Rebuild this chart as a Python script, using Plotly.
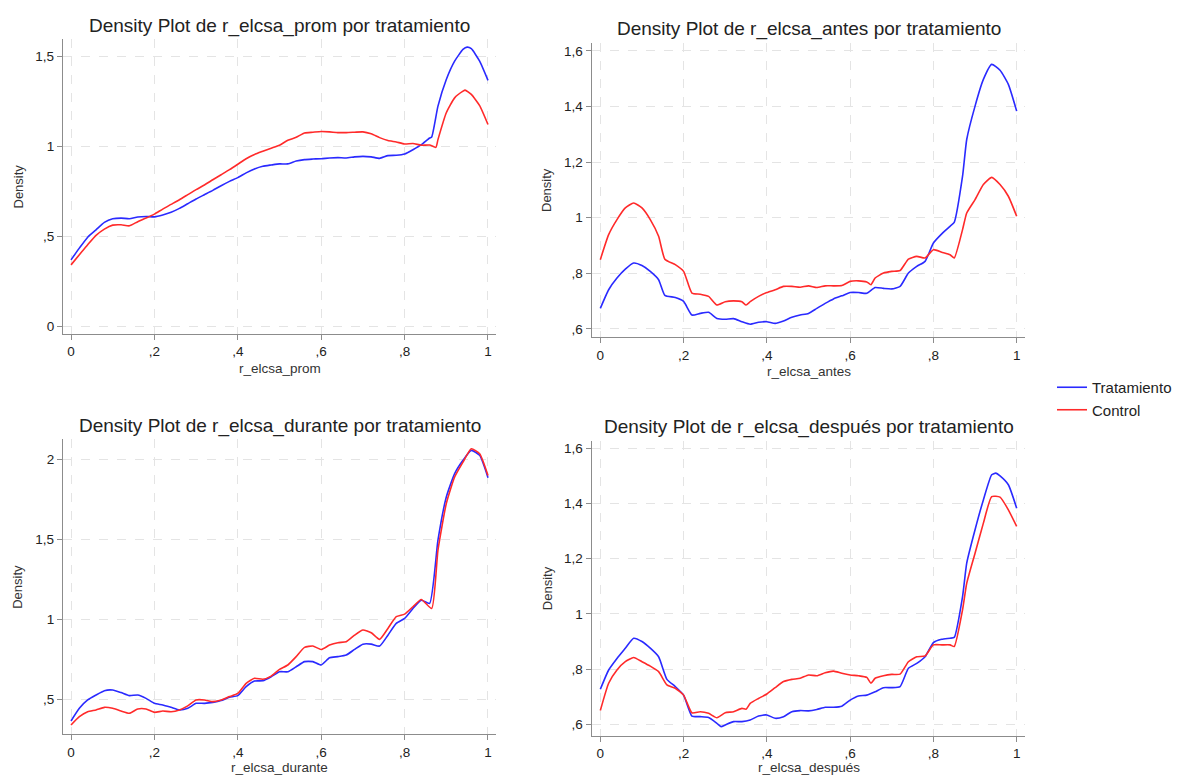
import plotly.graph_objects as go

# ---------------- Data ----------------
# Panel 1: r_elcsa_prom
p1_trat_x = [0, .02, .04, .06, .08, .10, .12, .14, .16, .18, .20, .22, .24, .26, .28, .30, .32, .34, .36, .38, .40,
             .42, .44, .46, .48, .50, .52, .54, .56, .58, .60, .62, .64, .66, .68, .70, .72, .74, .76, .78, .80,
             .82, .84, .86, .865, .88, .90, .92, .94, .95, .96, .98, 1.0]
p1_trat_y = [0.369, 0.434, 0.495, 0.536, 0.577, 0.597, 0.601, 0.597, 0.607, 0.610, 0.608, 0.618, 0.633, 0.655,
             0.681, 0.707, 0.731, 0.755, 0.781, 0.805, 0.826, 0.852, 0.874, 0.889, 0.896, 0.902, 0.902, 0.918,
             0.926, 0.929, 0.931, 0.935, 0.937, 0.935, 0.941, 0.944, 0.941, 0.933, 0.948, 0.950, 0.957, 0.981,
             1.009, 1.046, 1.052, 1.223, 1.371, 1.473, 1.538, 1.551, 1.542, 1.473, 1.366]
p1_ctrl_x = [0, .02, .04, .06, .08, .10, .12, .14, .16, .18, .20, .22, .24, .26, .28, .30, .32, .34, .36, .38, .40,
             .42, .44, .46, .48, .50, .52, .54, .56, .58, .60, .62, .64, .66, .68, .70, .72, .74, .76, .78, .80,
             .82, .84, .86, .875, .88, .90, .92, .94, .945, .96, .98, 1.0]
p1_ctrl_y = [0.341, 0.397, 0.453, 0.505, 0.540, 0.562, 0.564, 0.558, 0.581, 0.601, 0.623, 0.651, 0.677, 0.703,
             0.731, 0.759, 0.785, 0.814, 0.842, 0.870, 0.900, 0.931, 0.954, 0.972, 0.989, 1.006, 1.033, 1.050,
             1.074, 1.078, 1.082, 1.080, 1.076, 1.076, 1.078, 1.080, 1.069, 1.048, 1.032, 1.024, 1.013, 1.015,
             1.006, 1.007, 0.994, 1.037, 1.186, 1.269, 1.306, 1.312, 1.288, 1.226, 1.121]

# Panel 2: r_elcsa_antes
p2_trat_x = [0, .02, .04, .06, .08, .10, .12, .14, .155, .18, .20, .22, .24, .26, .28, .30, .32, .34, .36, .38, .40,
             .42, .44, .46, .48, .50, .52, .54, .56, .58, .60, .62, .64, .66, .68, .70, .72, .74, .76, .78, .80,
             .82, .84, .85, .87, .88, .90, .92, .94, .96, .98, 1.0]
p2_trat_y = [0.674, 0.741, 0.783, 0.815, 0.837, 0.828, 0.807, 0.777, 0.721, 0.713, 0.699, 0.650, 0.656, 0.660,
             0.638, 0.635, 0.637, 0.626, 0.617, 0.624, 0.626, 0.620, 0.629, 0.642, 0.650, 0.656, 0.674, 0.692,
             0.708, 0.719, 0.731, 0.731, 0.728, 0.749, 0.746, 0.744, 0.753, 0.801, 0.825, 0.843, 0.909, 0.942,
             0.969, 0.983, 1.149, 1.281, 1.401, 1.497, 1.551, 1.530, 1.479, 1.383]
p2_ctrl_x = [0, .02, .04, .06, .08, .10, .12, .14, .155, .18, .20, .22, .24, .26, .28, .30, .32, .34, .35, .36, .38,
             .40, .42, .44, .46, .48, .50, .52, .54, .56, .58, .60, .62, .64, .65, .66, .68, .70, .72, .74, .76,
             .78, .80, .82, .84, .85, .87, .88, .90, .92, .94, .96, .98, 1.0]
p2_ctrl_y = [0.849, 0.939, 0.993, 1.035, 1.053, 1.035, 0.993, 0.933, 0.851, 0.831, 0.807, 0.729, 0.725, 0.717,
             0.686, 0.698, 0.701, 0.698, 0.686, 0.698, 0.717, 0.731, 0.741, 0.753, 0.753, 0.750, 0.755, 0.749,
             0.755, 0.755, 0.756, 0.771, 0.773, 0.769, 0.759, 0.783, 0.801, 0.807, 0.810, 0.851, 0.861, 0.855,
             0.885, 0.876, 0.867, 0.855, 0.957, 1.017, 1.065, 1.119, 1.145, 1.119, 1.077, 1.005]

# Panel 3: r_elcsa_durante
p3_trat_x = [0, .02, .04, .06, .08, .10, .12, .14, .16, .18, .20, .22, .24, .26, .28, .30, .32, .34, .36, .38, .40,
             .42, .44, .46, .48, .50, .52, .54, .56, .58, .60, .62, .64, .66, .68, .70, .72, .74, .76, .78, .80,
             .82, .84, .86, .88, .90, .92, .94, .96, .98, 1.0]
p3_trat_y = [0.367, 0.446, 0.498, 0.529, 0.556, 0.560, 0.544, 0.525, 0.529, 0.508, 0.477, 0.467, 0.452, 0.436,
             0.446, 0.477, 0.477, 0.483, 0.494, 0.515, 0.525, 0.581, 0.616, 0.618, 0.643, 0.674, 0.674, 0.705,
             0.737, 0.737, 0.716, 0.761, 0.768, 0.778, 0.813, 0.846, 0.846, 0.834, 0.902, 0.975, 1.006, 1.068,
             1.120, 1.100, 1.494, 1.763, 1.909, 1.992, 2.054, 2.023, 1.884]
p3_ctrl_x = [0, .02, .04, .06, .08, .10, .12, .14, .16, .18, .20, .22, .24, .26, .28, .30, .32, .34, .36, .38, .40,
             .42, .44, .46, .48, .50, .52, .54, .56, .58, .60, .62, .64, .66, .68, .70, .72, .74, .76, .78, .80,
             .82, .84, .865, .88, .90, .92, .94, .96, .98, 1.0]
p3_ctrl_y = [0.342, 0.394, 0.425, 0.436, 0.452, 0.446, 0.429, 0.415, 0.442, 0.442, 0.421, 0.429, 0.425, 0.436,
             0.461, 0.498, 0.498, 0.488, 0.498, 0.519, 0.539, 0.602, 0.633, 0.627, 0.647, 0.689, 0.716, 0.768,
             0.826, 0.834, 0.813, 0.840, 0.855, 0.861, 0.902, 0.934, 0.917, 0.876, 0.944, 1.017, 1.033, 1.079,
             1.124, 1.068, 1.432, 1.722, 1.888, 1.981, 2.064, 2.033, 1.898]

# Panel 4: r_elcsa_después
p4_trat_x = [0, .02, .04, .06, .08, .10, .12, .14, .16, .18, .20, .22, .24, .26, .28, .29, .30, .32, .34, .36, .38,
             .40, .42, .44, .46, .48, .50, .52, .54, .56, .58, .60, .62, .64, .66, .68, .70, .72, .74, .76, .78,
             .80, .82, .84, .85, .87, .88, .90, .92, .94, .95, .96, .98, 1.0]
p4_trat_y = [0.727, 0.797, 0.839, 0.876, 0.912, 0.900, 0.876, 0.845, 0.763, 0.737, 0.706, 0.630, 0.628, 0.625,
             0.604, 0.592, 0.598, 0.610, 0.610, 0.616, 0.630, 0.634, 0.622, 0.628, 0.646, 0.650, 0.649, 0.654,
             0.662, 0.662, 0.666, 0.688, 0.703, 0.706, 0.718, 0.733, 0.733, 0.737, 0.803, 0.821, 0.845, 0.896,
             0.908, 0.912, 0.915, 1.063, 1.184, 1.305, 1.413, 1.504, 1.510, 1.500, 1.468, 1.383]
p4_ctrl_x = [0, .02, .04, .06, .08, .10, .12, .14, .16, .18, .20, .22, .24, .26, .28, .30, .32, .34, .35, .36, .38,
             .40, .42, .44, .46, .48, .50, .52, .54, .56, .58, .60, .62, .64, .65, .66, .68, .70, .72, .74, .76,
             .78, .80, .82, .84, .85, .87, .88, .90, .92, .94, .96, .98, 1.0]
p4_ctrl_y = [0.650, 0.749, 0.797, 0.827, 0.842, 0.827, 0.811, 0.791, 0.743, 0.731, 0.706, 0.642, 0.646, 0.640,
             0.624, 0.642, 0.646, 0.658, 0.655, 0.676, 0.694, 0.710, 0.733, 0.755, 0.763, 0.767, 0.779, 0.776,
             0.787, 0.793, 0.785, 0.779, 0.776, 0.770, 0.749, 0.767, 0.776, 0.781, 0.782, 0.827, 0.845, 0.848,
             0.888, 0.888, 0.888, 0.882, 1.015, 1.111, 1.220, 1.329, 1.425, 1.423, 1.377, 1.317]

titles = ["Density Plot de r_elcsa_prom por tratamiento",
          "Density Plot de r_elcsa_antes por tratamiento",
          "Density Plot de r_elcsa_durante por tratamiento",
          "Density Plot de r_elcsa_después por tratamiento"]
xtitles = ["r_elcsa_prom", "r_elcsa_antes", "r_elcsa_durante", "r_elcsa_después"]
series_names = ["Tratamiento", "Control"]

x_tickvals = [0, 0.2, 0.4, 0.6, 0.8, 1]
x_ticktext = ["0", ",2", ",4", ",6", ",8", "1"]
y_ticks = [
    ([0, 0.5, 1, 1.5], ["0", ",5", "1", "1,5"]),
    ([0.6, 0.8, 1, 1.2, 1.4, 1.6], [",6", ",8", "1", "1,2", "1,4", "1,6"]),
    ([0.5, 1, 1.5, 2], [",5", "1", "1,5", "2"]),
    ([0.6, 0.8, 1, 1.2, 1.4, 1.6], [",6", ",8", "1", "1,2", "1,4", "1,6"]),
]

# ---------------- Layout geometry ----------------
# The html body has an 8px margin, so page pixel p maps to figure pixel p - 8.
OFF = 8
W, H = 1187 - OFF, 776 - OFF
FONT = "Arial, Liberation Sans, sans-serif"
BLUE = "#2a2aff"
RED = "#ff2a2a"


def fx(px):
    return (px - OFF) / W


def fy(py):
    return 1 - (py - OFF) / H


x_dom_left = [fx(63), fx(496)]
x_dom_right = [fx(591.7), fx(1025.3)]
x_range_left = [-0.0192, 1.0192]
x_range_right = [-0.0207, 1.0207]

panels = [
    dict(xd=x_dom_left, xr=x_range_left, yd=[fy(334), fy(39)], yr=[-0.043, 1.596],
         data=(p1_trat_x, p1_trat_y, p1_ctrl_x, p1_ctrl_y), title_y=26, xt_y=368, yt_x=18),
    dict(xd=x_dom_right, xr=x_range_right, yd=[fy(337.3), fy(42.7)], yr=[0.570, 1.629],
         data=(p2_trat_x, p2_trat_y, p2_ctrl_x, p2_ctrl_y), title_y=29, xt_y=371, yt_x=547),
    dict(xd=x_dom_left, xr=x_range_left, yd=[fy(734.3), fy(439.3)], yr=[0.284, 2.123],
         data=(p3_trat_x, p3_trat_y, p3_ctrl_x, p3_ctrl_y), title_y=426, xt_y=767, yt_x=18),
    dict(xd=x_dom_right, xr=x_range_right, yd=[fy(735.7), fy(440.7)], yr=[0.559, 1.6275],
         data=(p4_trat_x, p4_trat_y, p4_ctrl_x, p4_ctrl_y), title_y=427, xt_y=767, yt_x=547),
]

fig = go.Figure()
annotations = []
layout_axes = {}

for i, p in enumerate(panels):
    n = i + 1
    xa = "x" if n == 1 else f"x{n}"
    ya = "y" if n == 1 else f"y{n}"
    tx, ty, cx, cy = p["data"]
    fig.add_trace(go.Scatter(x=tx, y=ty, mode="lines", name=series_names[0],
                             line=dict(color=BLUE, width=1.6, shape="spline", smoothing=0.5),
                             xaxis=xa, yaxis=ya, showlegend=(n == 1), legendgroup="t"))
    fig.add_trace(go.Scatter(x=cx, y=cy, mode="lines", name=series_names[1],
                             line=dict(color=RED, width=1.6, shape="spline", smoothing=0.5),
                             xaxis=xa, yaxis=ya, showlegend=(n == 1), legendgroup="c"))
    axis_common = dict(showline=True, linecolor="#8c8c8c", linewidth=1.3, ticks="outside",
                       ticklen=5, tickcolor="#8c8c8c", tickwidth=1, mirror=False,
                       showgrid=True, gridcolor="#e4e4e4", griddash="dash", gridwidth=1,
                       zeroline=False, tickfont=dict(family=FONT, size=13.5, color="#222222"))
    xkey = "xaxis" if n == 1 else f"xaxis{n}"
    ykey = "yaxis" if n == 1 else f"yaxis{n}"
    layout_axes[xkey] = dict(domain=p["xd"], range=p["xr"], anchor=ya, tickmode="array",
                             tickvals=x_tickvals, ticktext=x_ticktext, **axis_common)
    layout_axes[ykey] = dict(domain=p["yd"], range=p["yr"], anchor=xa, tickmode="array",
                             tickvals=y_ticks[i][0], ticktext=y_ticks[i][1], **axis_common)
    xc = (p["xd"][0] + p["xd"][1]) / 2
    annotations.append(dict(text=titles[i], x=xc, y=fy(p["title_y"]), xref="paper", yref="paper",
                            xanchor="center", yanchor="middle", showarrow=False,
                            font=dict(family=FONT, size=19, color="#222222")))
    annotations.append(dict(text=xtitles[i], x=xc, y=fy(p["xt_y"]),
                            xref="paper", yref="paper", xanchor="center", yanchor="middle",
                            showarrow=False, font=dict(family=FONT, size=13.5, color="#333333")))
    annotations.append(dict(text="Density", x=fx(p["yt_x"]), y=(p["yd"][0] + p["yd"][1]) / 2,
                            xref="paper", yref="paper", xanchor="center", yanchor="middle",
                            textangle=-90, showarrow=False,
                            font=dict(family=FONT, size=13, color="#333333")))

fig.update_layout(
    width=W, height=H, autosize=False,
    margin=dict(l=0, r=0, t=0, b=0),
    paper_bgcolor="white", plot_bgcolor="white",
    font=dict(family=FONT, color="#222222"),
    annotations=annotations,
    legend=dict(x=fx(1052), y=fy(398.5), xanchor="left", yanchor="middle",
                font=dict(family=FONT, size=15, color="#222222"),
                bgcolor="rgba(0,0,0,0)", tracegroupgap=0, itemwidth=30),
    showlegend=True,
    **layout_axes,
)

fig.write_html("out.html")
